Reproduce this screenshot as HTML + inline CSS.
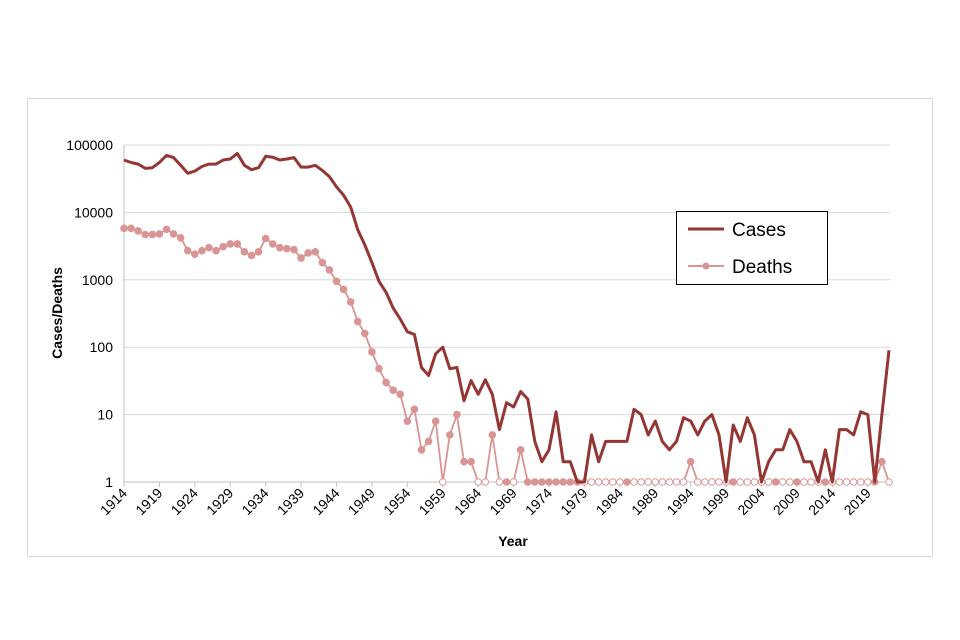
<!DOCTYPE html>
<html><head><meta charset="utf-8"><style>
html,body{margin:0;padding:0;background:#fff;}
svg{display:block;font-family:"Liberation Sans",Arial,sans-serif;}
</style></head><body>
<svg id="chart" width="960" height="640" viewBox="0 0 960 640">
<rect x="27.5" y="98.5" width="905" height="458" fill="#fff" stroke="#d9d9d9"/>
<g id="grid"></g>
<g id="axes"></g>
<g id="series"></g>
<text x="513" y="546" font-size="14" font-weight="bold" text-anchor="middle">Year</text>
<text transform="translate(62,313) rotate(-90)" font-size="14" font-weight="bold" text-anchor="middle">Cases/Deaths</text>
<g>
<rect x="676.5" y="211.5" width="151" height="73" fill="#fff" stroke="#000"/>
<g><line x1="688" y1="229" x2="724" y2="229" stroke="#943634" stroke-width="3"/><text x="732" y="236" font-size="19">Cases</text></g>
<g><line x1="688" y1="266" x2="724" y2="266" stroke="#d99594" stroke-width="2"/><circle cx="706" cy="266" r="3.5" fill="#d99594"/><text x="732" y="273" font-size="19">Deaths</text></g>
</g>
</svg>
<script>
const years = [];
for (let y = 1914; y <= 2022; y++) years.push(y);
const cases = [60000,55000,52000,45000,46000,55000,70000,65000,50000,38000,41000,48000,52000,52000,60000,62000,75000,50000,43000,46000,68000,66000,60000,62000,65000,47000,47000,50000,42000,34000,24000,18000,12000,5500,3300,1800,950,650,380,260,170,155,50,38,80,100,48,50,16,32,20,33,20,6,15,13,22,17,4,2,3,11,2,2,1,1,5,2,4,4,4,4,12,10,5,8,4,3,4,9,8,5,8,10,5,1,7,4,9,5,1,2,3,3,6,4,2,2,1,3,1,6,6,5,11,10,1,10,90];
const deaths = [5800,5800,5300,4700,4700,4800,5600,4800,4200,2700,2400,2700,3000,2700,3100,3400,3400,2600,2300,2600,4100,3400,3000,2900,2800,2100,2500,2600,1800,1400,950,720,470,240,160,85,48,30,23,20,8,12,3,4,8,0,5,10,2,2,0,0,5,0,1,0,3,1,1,1,1,1,1,1,1,0,0,0,0,0,0,1,0,0,0,0,0,0,0,0,2,0,0,0,0,0,1,0,0,0,0,0,1,0,0,1,0,0,0,1,0,0,0,0,0,0,1,2,0];
const yTicks = [1,10,100,1000,10000,100000];
const xTickYears = [1914,1919,1924,1929,1934,1939,1944,1949,1954,1959,1964,1969,1974,1979,1984,1989,1994,1999,2004,2009,2014,2019];

const X0 = 124, X1 = 889, Y0 = 482, Y1 = 145;
const xScale = yr => X0 + (yr - 1914) * (X1 - X0) / (2022 - 1914);
const yScale = v => Y0 - (Math.log10(Math.max(v, 1)) / 5) * (Y0 - Y1);
const NS = "http://www.w3.org/2000/svg";
function mk(tag, attrs, parent) { const e = document.createElementNS(NS, tag); for (const k in attrs) e.setAttribute(k, attrs[k]); parent.appendChild(e); return e; }

const grid = document.getElementById('grid'), axes = document.getElementById('axes'), series = document.getElementById('series');
yTicks.forEach(t => {
  const y = yScale(t);
  const gl = mk('line', {x1: X0, x2: 890, y1: y, y2: y, stroke: t === 1 ? '#bfbfbf' : '#d9d9d9', 'stroke-width': 1}, grid);
  
  
  const tl = mk('text', {x: 113, y: y + 5, 'font-size': 14, 'text-anchor': 'end'}, axes);
  tl.textContent = t;
  
  
});
const ya = mk('line', {x1: X0, x2: X0, y1: Y1, y2: Y0, stroke: '#bfbfbf'}, axes);


xTickYears.forEach(yr => {
  const x = xScale(yr);
  const tk = mk('line', {x1: x, x2: x, y1: Y0, y2: Y0 + 5, stroke: '#bfbfbf'}, axes);
  
  
  const tl = mk('text', {transform: `translate(${x + 4},${Y0 + 12}) rotate(-45)`, 'font-size': 14, 'text-anchor': 'end'}, axes);
  tl.textContent = yr;
  
  
});

const dPts = years.map((yr, i) => xScale(yr).toFixed(1) + ',' + yScale(deaths[i]).toFixed(1)).join(' ');
const dl = mk('polyline', {points: dPts, fill: 'none', stroke: '#d99594', 'stroke-width': 1.8}, series);


years.forEach((yr, i) => {
  const zero = deaths[i] === 0;
  const c = mk('circle', {cx: xScale(yr), cy: yScale(deaths[i]), r: 3.3, fill: zero ? '#fff' : '#d99594', stroke: '#d99594', 'stroke-width': 1}, series);
  
  
});
const cPts = years.map((yr, i) => xScale(yr).toFixed(1) + ',' + yScale(cases[i]).toFixed(1)).join(' ');
const cl = mk('polyline', {points: cPts, fill: 'none', stroke: '#943634', 'stroke-width': 3, 'stroke-linejoin': 'round'}, series);


</script>
</body></html>
